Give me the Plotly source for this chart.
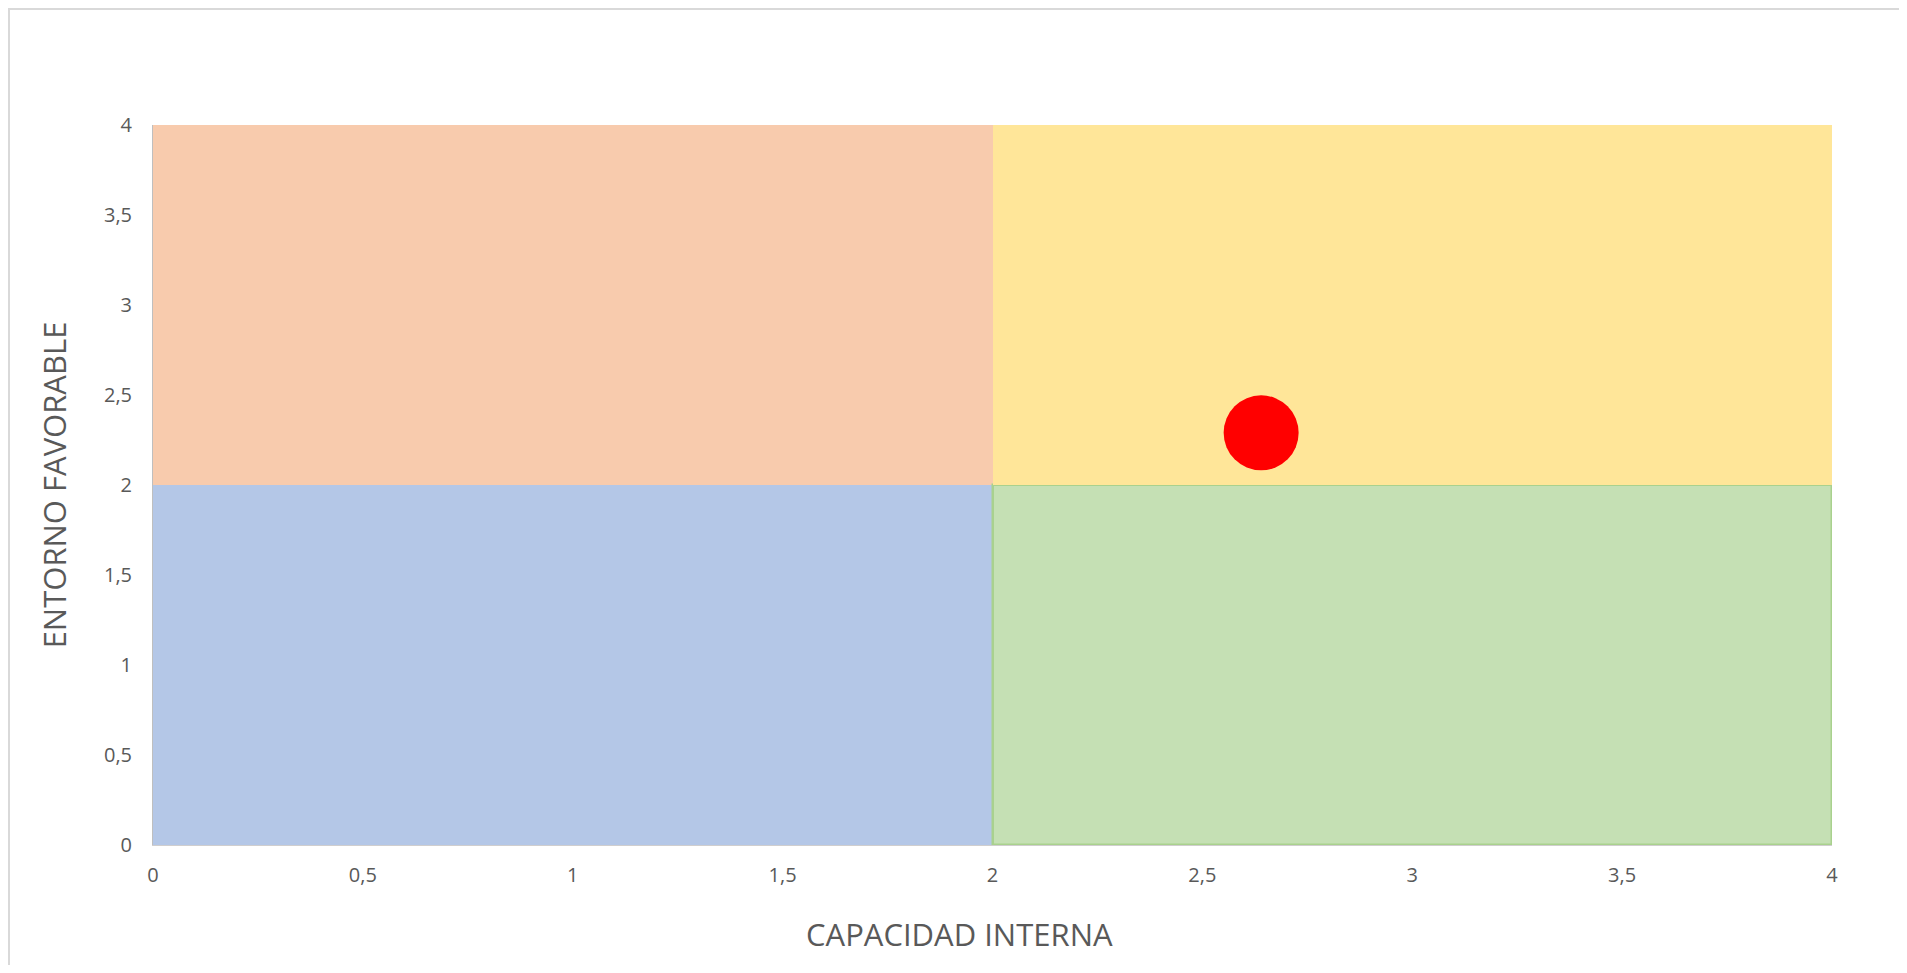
import plotly.graph_objects as go

# Quadrants (x-centre, width, base, height, fill colour, border colour)
quad_names = ["Bajo-izq", "Alto-izq", "Bajo-der", "Alto-der"]
quad_x = [1, 1, 3, 3]
quad_width = [2, 2, 2, 2]
quad_base = [0, 2, 0, 2]
quad_height = [2, 2, 2, 2]
quad_fill = ["#B4C7E7", "#F8CBAD", "#C5E0B4", "#FFE699"]
quad_line = ["#B4C7E7", "#F8CBAD", "#A9D18E", "#FFE699"]

# Position point
point_x = [2.64]
point_y = [2.29]

x_ticks = [0, 0.5, 1, 1.5, 2, 2.5, 3, 3.5, 4]
y_ticks = [0, 0.5, 1, 1.5, 2, 2.5, 3, 3.5, 4]

x_title = "CAPACIDAD INTERNA"
y_title = "ENTORNO FAVORABLE"

fig = go.Figure()
for i in range(len(quad_x)):
    fig.add_trace(go.Bar(
        x=[quad_x[i]], y=[quad_height[i]], base=[quad_base[i]], width=[quad_width[i]],
        marker=dict(color=quad_fill[i], line=dict(color=quad_line[i], width=2.5 if i == 2 else 0)),
        name=quad_names[i], showlegend=False, hoverinfo="skip",
    ))

fig.add_trace(go.Scatter(
    x=point_x, y=point_y, mode="markers",
    marker=dict(color="#FF0000", size=75, line=dict(width=0)),
    showlegend=False,
))

font_color = "#595959"
fig.update_layout(
    width=1891, height=957,
    margin=dict(l=145, r=67, t=117, b=120),
    paper_bgcolor="white", plot_bgcolor="white",
    barmode="overlay", bargap=0,
    separators=",.",
    font=dict(family="Open Sans, Liberation Sans, sans-serif", color=font_color),
    xaxis=dict(
        range=[0, 4], tickvals=x_ticks, showgrid=False, zeroline=False,
        showline=True, linecolor="#D0CECE", linewidth=1,
        ticks="", tickfont=dict(size=20, color=font_color), ticklabelstandoff=12,
    ),
    yaxis=dict(
        range=[0, 4], tickvals=y_ticks, showgrid=False, zeroline=False,
        showline=True, linecolor="#BFBFBF", linewidth=1,
        ticks="", tickfont=dict(size=20, color=font_color), ticklabelstandoff=16,
        title=dict(text=y_title, font=dict(size=31, color=font_color), standoff=28),
    ),
    annotations=[dict(
        text=x_title, xref="paper", yref="paper", x=0.4806, y=0,
        xanchor="center", yanchor="middle", yshift=-89, showarrow=False,
        font=dict(size=31, color=font_color),
    )],
    shapes=[dict(
        type="rect", xref="paper", yref="paper",
        xsizemode="pixel", ysizemode="pixel", xanchor=0, yanchor=1,
        x0=-144, x1=3000, y0=-3000, y1=116,
        line=dict(color="#D9D9D9", width=2), fillcolor="rgba(0,0,0,0)", layer="below",
    )],
)

fig.write_html("out.html")
